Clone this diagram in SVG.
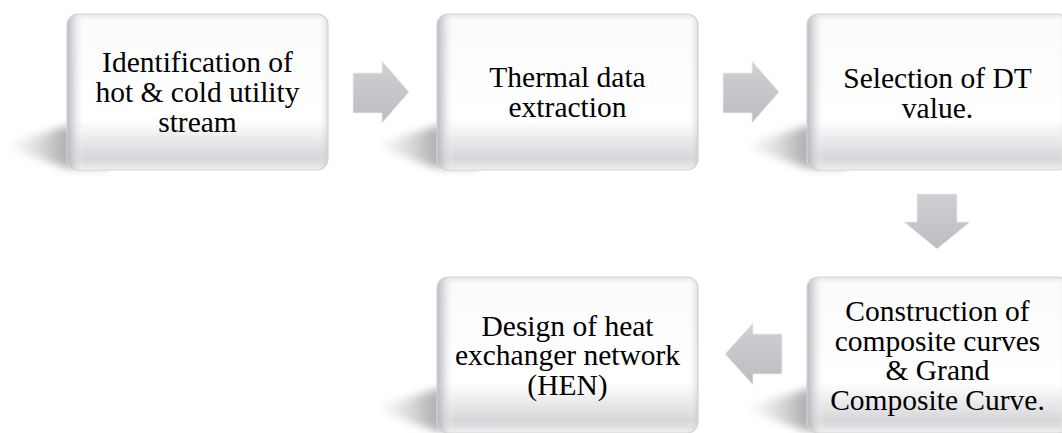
<svg xmlns="http://www.w3.org/2000/svg" width="1062" height="433" viewBox="0 0 1062 433">
  <style>
    .lbl { font-family: "Liberation Serif", "Times New Roman", serif; font-size: 29.5px; fill: #000; text-anchor: middle; }
    .box { stroke: #d4d4d6; stroke-width: 1.2; }
    .arrow { fill: url(#ga); stroke: #eeeef0; stroke-width: 0.8; }
  </style>
  <defs>
    <linearGradient id="gv" x1="0" y1="0" x2="0" y2="1">
      <stop offset="0" stop-color="#e6e6e8"/>
      <stop offset="0.04" stop-color="#fbfbfc"/>
      <stop offset="0.68" stop-color="#ffffff"/>
      <stop offset="0.92" stop-color="#d6d6da"/>
      <stop offset="0.97" stop-color="#e2e2e4"/>
      <stop offset="1" stop-color="#f2f2f2"/>
    </linearGradient>
    <linearGradient id="gh" x1="0" y1="0" x2="1" y2="0">
      <stop offset="0" stop-color="#b0b0b8" stop-opacity="0.9"/>
      <stop offset="0.02" stop-color="#c4c4cc" stop-opacity="0.7"/>
      <stop offset="0.07" stop-color="#ffffff" stop-opacity="0"/>
      <stop offset="0.96" stop-color="#ffffff" stop-opacity="0"/>
      <stop offset="1" stop-color="#c0c0c4" stop-opacity="0.5"/>
    </linearGradient>
    <linearGradient id="gs" x1="0" y1="0" x2="1" y2="0">
      <stop offset="0" stop-color="#d8d8d8" stop-opacity="0.15"/>
      <stop offset="0.55" stop-color="#9a9a9a" stop-opacity="0.75"/>
      <stop offset="1" stop-color="#9a9a9a" stop-opacity="0.75"/>
    </linearGradient>
    <linearGradient id="ga" x1="0" y1="0" x2="0" y2="1">
      <stop offset="0" stop-color="#d0d0d4"/>
      <stop offset="1" stop-color="#bcbcc1"/>
    </linearGradient>
    <filter id="blur" x="-30%" y="-50%" width="160%" height="200%">
      <feGaussianBlur stdDeviation="4.5"/>
    </filter>
    <path id="shadow" d="M-59,130 L0,112 L40,112 L40,154 L0,154 L-47,138 Z" fill="url(#gs)" filter="url(#blur)"/>
    <g id="card">
      <rect x="0" y="0" width="261" height="156" rx="11" fill="url(#gv)"/>
      <rect x="0" y="0" width="261" height="156" rx="11" fill="url(#gh)" class="box"/>
    </g>
  </defs>

  <g id="n1" transform="translate(67,14)">
    <use href="#shadow"/>
    <use href="#card"/>
    <text class="lbl" x="130.5" y="58">Identification of</text>
    <text class="lbl" x="130.5" y="88">hot &amp; cold utility</text>
    <text class="lbl" x="130.5" y="118">stream</text>
  </g>

  <g id="n2" transform="translate(437,14)">
    <use href="#shadow"/>
    <use href="#card"/>
    <text class="lbl" x="130.5" y="73">Thermal data</text>
    <text class="lbl" x="130.5" y="102.5">extraction</text>
  </g>

  <g id="n3" transform="translate(807,14)">
    <use href="#shadow"/>
    <use href="#card"/>
    <text class="lbl" x="130.5" y="74">Selection of DT</text>
    <text class="lbl" x="130.5" y="103.5">value.</text>
  </g>

  <g id="n4" transform="translate(807,277)">
    <use href="#shadow"/>
    <use href="#card"/>
    <text class="lbl" x="130.5" y="44">Construction of</text>
    <text class="lbl" x="130.5" y="73.5">composite curves</text>
    <text class="lbl" x="130.5" y="103">&amp; Grand</text>
    <text class="lbl" x="130.5" y="132.5">Composite Curve.</text>
  </g>

  <g id="n5" transform="translate(437,277)">
    <use href="#shadow"/>
    <use href="#card"/>
    <text class="lbl" x="130.5" y="58.5">Design of heat</text>
    <text class="lbl" x="130.5" y="88">exchanger network</text>
    <text class="lbl" x="130.5" y="117.5">(HEN)</text>
  </g>

  <g id="connectors">
    <path class="arrow" d="M353,73 H382 V61 L409,92 L382,123 V113 H353 Z"/>
    <path class="arrow" d="M723,73 H752 V61 L779,92 L752,123 V113 H723 Z"/>
    <path class="arrow" d="M917,194 H957 V222 H970 L937,249 L904,222 H917 Z"/>
    <path class="arrow" d="M782,334 V374 H753 V385 L725,354 L753,323 V334 Z"/>
  </g>
</svg>
